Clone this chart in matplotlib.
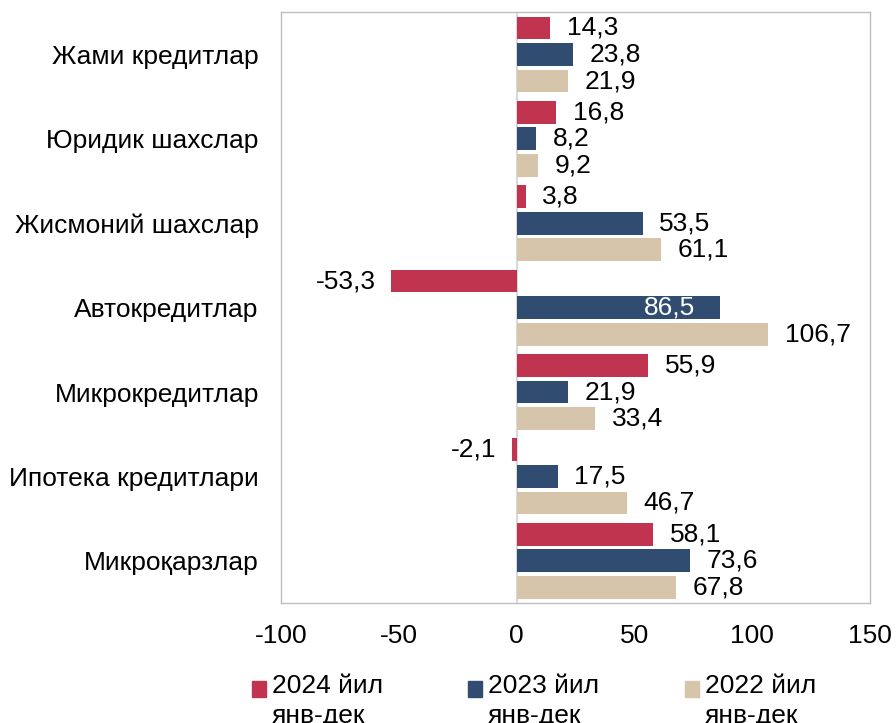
import numpy as np
import matplotlib
matplotlib.use("Agg")
import matplotlib.pyplot as plt
from matplotlib.patches import Rectangle

plt.rcParams['font.family'] = ['Liberation Sans', 'DejaVu Sans']

# ------------------------------------------------------------
# Данные
# ------------------------------------------------------------
categorias = ['Жами кредитлар', 'Юридик шахслар', 'Жисмоний шахслар',
              'Автокредитлар', 'Микрокредитлар', 'Ипотека кредитлари',
              'Микроқарзлар']
v2024 = [14.3, 16.8, 3.8, -53.3, 55.9, -2.1, 58.1]
v2023 = [23.8, 8.2, 53.5, 86.5, 21.9, 17.5, 73.6]
v2022 = [21.9, 9.2, 61.1, 106.7, 33.4, 46.7, 67.8]
series_labels = ['2024 йил\nянв-дек', '2023 йил\nянв-дек', '2022 йил\nянв-дек']
xticks = [-100, -50, 0, 50, 100, 150]

colores = ['#C0344F', '#304C70', '#D6C5AA']
FS = 19

# ------------------------------------------------------------
# Figura
# ------------------------------------------------------------
fig = plt.figure(figsize=(8.96, 7.23), dpi=100)
ax = fig.add_axes([0.3136, 0.166, 0.6574, 0.817])

y = np.arange(len(categorias))
offset = 0.315
alto = 0.27

for serie, col, dy in zip([v2024, v2023, v2022], colores, [-offset, 0, offset]):
    bars = ax.barh(y + dy, serie, height=alto, color=col, zorder=2)
    for b, v in zip(bars, serie):
        txt = f"{v:.1f}".replace('.', ',')
        yc = b.get_y() + b.get_height() / 2
        if v == 86.5:
            # etiqueta dentro de la barra
            ax.annotate(txt, (v, yc), xytext=(-18, 0), textcoords='offset points',
                        ha='right', va='center', fontsize=FS, color='white')
        elif v < 0:
            ax.annotate(txt, (v, yc), xytext=(-11, 0), textcoords='offset points',
                        ha='right', va='center', fontsize=FS, color='black')
        else:
            ax.annotate(txt, (v, yc), xytext=(12, 0), textcoords='offset points',
                        ha='left', va='center', fontsize=FS, color='black')

ax.axvline(0, color='#D9D9D9', lw=1.5, zorder=1)

ax.set_xlim(-100, 150)
ax.set_ylim(len(categorias) - 0.5, -0.5)
ax.set_xticks(xticks)
ax.set_xticklabels([str(t) for t in xticks])
ax.set_yticks(y)
ax.set_yticklabels(categorias)
ax.tick_params(axis='x', length=0, pad=15, labelsize=FS)
ax.tick_params(axis='y', length=0, pad=16, labelsize=FS)

for s in ax.spines.values():
    s.set_color('#BFBFBF')
    s.set_linewidth(1)

# ------------------------------------------------------------
# Leyenda manual
# ------------------------------------------------------------
leg_x = [252, 468, 685]
for lx, col, lab in zip(leg_x, colores, series_labels):
    fig.patches.append(Rectangle((lx / 896, 1 - 697 / 723), 14 / 896, 16 / 723,
                                 transform=fig.transFigure, color=col))
    fig.text((lx + 20) / 896, 1 - 674 / 723, lab, fontsize=FS, va='top',
             ha='left', linespacing=1.3)

fig.savefig('out.png', dpi=100)
